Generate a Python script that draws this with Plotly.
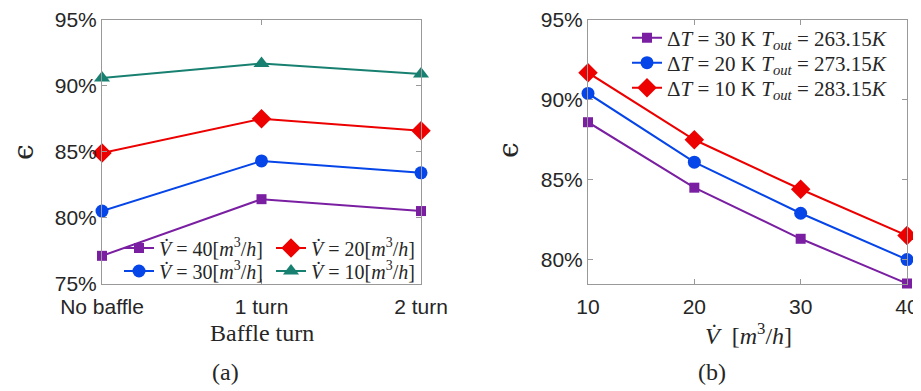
import plotly.graph_objects as go

# ---------------- data ----------------
baffle_cats = ["No baffle", "1 turn", "2 turn"]
eff_v40 = [77.1, 81.4, 80.5]
eff_v30 = [80.5, 84.3, 83.4]
eff_v20 = [84.9, 87.5, 86.6]
eff_v10 = [90.6, 91.7, 90.9]

flow_rates = [10, 20, 30, 40]
eff_dt30 = [88.6, 84.5, 81.3, 78.5]
eff_dt20 = [90.4, 86.1, 82.9, 80.0]
eff_dt10 = [91.7, 87.5, 84.4, 81.5]

left_yticks = [75, 80, 85, 90, 95]
right_yticks = [80, 85, 90, 95]
right_xticks = [10, 20, 30, 40]

# ---------------- style ----------------
PURPLE = "#7A1FA2"
BLUE = "#0645E8"
RED = "#EC0000"
GREEN = "#178070"
AXIS_COL = "#999999"
TXT = "#262626"
TICK_FONT = dict(family="Liberation Sans, Arial, sans-serif", size=21, color=TXT)
SERIF = "Liberation Serif, Times New Roman, serif"

W, H = 921, 391
OFF = 8  # page body margin of the html page
def px_x(p):
    return (p - OFF) / W
def px_y(p):
    return 1 - (p - OFF) / H

fig = go.Figure()

def vlabel(v):
    return f"<i>V\u0307</i> = {v}[<i>m</i><sup>3</sup>/<i>h</i>]"

def tlabel(dt, tout):
    return f"\u0394<i>T</i> = {dt} K <i>T<sub>out</sub></i> = {tout}<i>K</i>"

left_series = [
    (eff_v40, vlabel(40), PURPLE, "square", 10, "legend"),
    (eff_v30, vlabel(30), BLUE, "circle", 13, "legend3"),
    (eff_v20, vlabel(20), RED, "diamond", 15, "legend2"),
    (eff_v10, vlabel(10), GREEN, "triangle-up", 14, "legend4"),
]
for ys, name, col, sym, sz, lg in left_series:
    fig.add_trace(go.Scatter(
        x=baffle_cats, y=ys, name=name, mode="lines+markers",
        line=dict(color=col, width=2),
        marker=dict(symbol=sym, size=sz, color=col),
        xaxis="x", yaxis="y", legend=lg, cliponaxis=False))

right_series = [
    (eff_dt30, tlabel(30, "263.15"), PURPLE, "square", 10, "legend5"),
    (eff_dt20, tlabel(20, "273.15"), BLUE, "circle", 13, "legend6"),
    (eff_dt10, tlabel(10, "283.15"), RED, "diamond", 15, "legend7"),
]
for ys, name, col, sym, sz, lg in right_series:
    fig.add_trace(go.Scatter(
        x=flow_rates, y=ys, name=name, mode="lines+markers",
        line=dict(color=col, width=2),
        marker=dict(symbol=sym, size=sz, color=col),
        xaxis="x2", yaxis="y2", legend=lg, cliponaxis=False))

axis_common = dict(showline=True, linecolor=AXIS_COL, linewidth=1, mirror="ticks",
                   ticks="inside", ticklen=5, tickcolor=AXIS_COL, showgrid=False,
                   zeroline=False, tickfont=TICK_FONT, automargin=False)

ydom = [px_y(283.5), px_y(20)]

def one_legend(xp, yp, size):
    return dict(x=px_x(xp), y=px_y(yp), xanchor="left", yanchor="middle",
                bgcolor="rgba(0,0,0,0)", font=dict(family=SERIF, size=size, color=TXT),
                itemclick=False, tracegroupgap=0)

fig.update_layout(
    width=W, height=H, margin=dict(l=0, r=0, t=0, b=0, autoexpand=False),
    paper_bgcolor="white", plot_bgcolor="white",
    xaxis=dict(domain=[px_x(102), px_x(421)], type="category",
               categoryorder="array", categoryarray=baffle_cats,
               range=[0, 2], anchor="y", ticklabelstandoff=4, **axis_common),
    yaxis=dict(domain=ydom, range=[75, 95], tickvals=left_yticks,
               ticktext=[f"{v}%" for v in left_yticks], anchor="x", **axis_common),
    xaxis2=dict(domain=[px_x(588), px_x(907)], range=[10, 40], tickvals=right_xticks,
                anchor="y2", ticklabelstandoff=4, **axis_common),
    yaxis2=dict(domain=ydom, range=[78.5, 95], tickvals=right_yticks,
                ticktext=[f"{v}%" for v in right_yticks], anchor="x2", **axis_common),
    legend=one_legend(119, 248, 20),
    legend2=one_legend(271, 248, 20),
    legend3=one_legend(119, 271, 20),
    legend4=one_legend(271, 271, 20),
    legend5=one_legend(627, 38, 21),
    legend6=one_legend(627, 63, 21),
    legend7=one_legend(627, 88, 21),
    showlegend=True,
)

ann_font = dict(family=SERIF, size=24, color=TXT)
eps_font = dict(family="DejaVu Serif, serif", size=28, color=TXT)
annotations = [
    dict(text="\u03f5", x=px_x(23), y=px_y(152), textangle=-90, font=eps_font),
    dict(text="\u03f5", x=px_x(508), y=px_y(150), textangle=-90, font=eps_font),
    dict(text="Baffle turn", x=px_x(262), y=px_y(333), font=ann_font),
    dict(text="<i>V\u0307</i>  [<i>m</i><sup>3</sup>/<i>h</i>]", x=px_x(748), y=px_y(334), font=ann_font),
    dict(text="(a)", x=px_x(225), y=px_y(372), font=ann_font),
    dict(text="(b)", x=px_x(712), y=px_y(372), font=ann_font),
]
for a in annotations:
    fig.add_annotation(xref="paper", yref="paper", showarrow=False,
                       xanchor="center", yanchor="middle", **a)

fig.write_html("out.html")
